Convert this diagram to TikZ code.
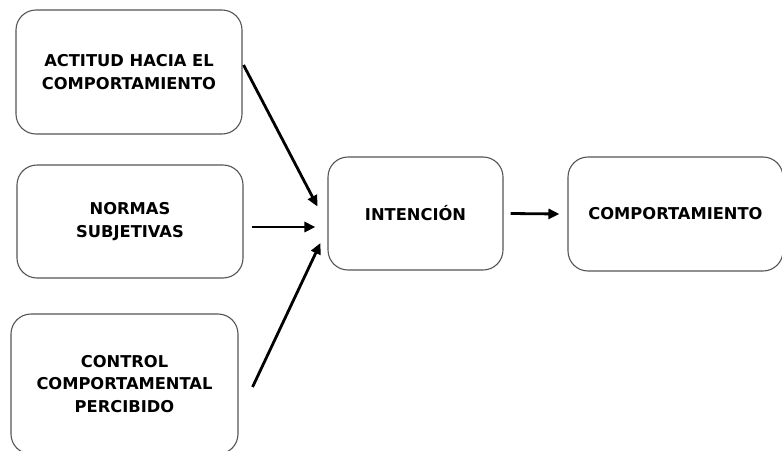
\documentclass[tikz,border=0pt]{standalone}
\usepackage{fontspec}
\setmainfont{DejaVu Sans}
\usepackage{tikz}
\usetikzlibrary{arrows.meta}
\definecolor{borde}{RGB}{85, 85, 85}

\begin{document}
\begin{tikzpicture}[x=1pt, y=-1pt,
    caja/.style={draw=borde, line width=1.1pt, rounded corners=20pt, inner sep=0pt,
      align=center, font=\bfseries\fontsize{16.3}{22.5}\selectfont},
    flecha/.style={line width=2.8pt, -{Triangle[length=11pt, width=10pt]}}]
  \useasboundingbox (0, 0) rectangle (782, 450);

  \node[caja, minimum width=226pt, minimum height=124pt] (actitud) at (129, 72)
    {ACTITUD HACIA EL\\COMPORTAMIENTO};
  \node[caja, minimum width=226pt, minimum height=113pt] (normas) at (130, 221.5)
    {NORMAS\\SUBJETIVAS};
  \node[caja, minimum width=227pt, minimum height=140pt] (control) at (124.5, 384)
    {CONTROL\\COMPORTAMENTAL\\PERCIBIDO};

  \node[caja, minimum width=175pt, minimum height=113pt] (intencion) at (415.5, 213.5)
    {INTENCIÓN};
  \node[caja, minimum width=215pt, minimum height=114pt] (comportamiento) at (675.5, 214)
    {COMPORTAMIENTO};

  % flechas hacia la intencion
  \draw[flecha] ([xshift=1pt, yshift=7pt]actitud.east)
    -- ([xshift=-10pt, yshift=7pt]intencion.west);
  \draw[flecha] ([xshift=8pt, yshift=-5.5pt]normas.east)
    -- ([xshift=-12pt, yshift=-13.5pt]intencion.west);
  \draw[flecha] ([xshift=14pt, yshift=-3pt]control.east)
    -- ([xshift=-7pt, yshift=-29.5pt]intencion.west);

  \draw[flecha] ([xshift=7pt]intencion.east) -- ([xshift=-8pt]comportamiento.west);
\end{tikzpicture}
\end{document}
